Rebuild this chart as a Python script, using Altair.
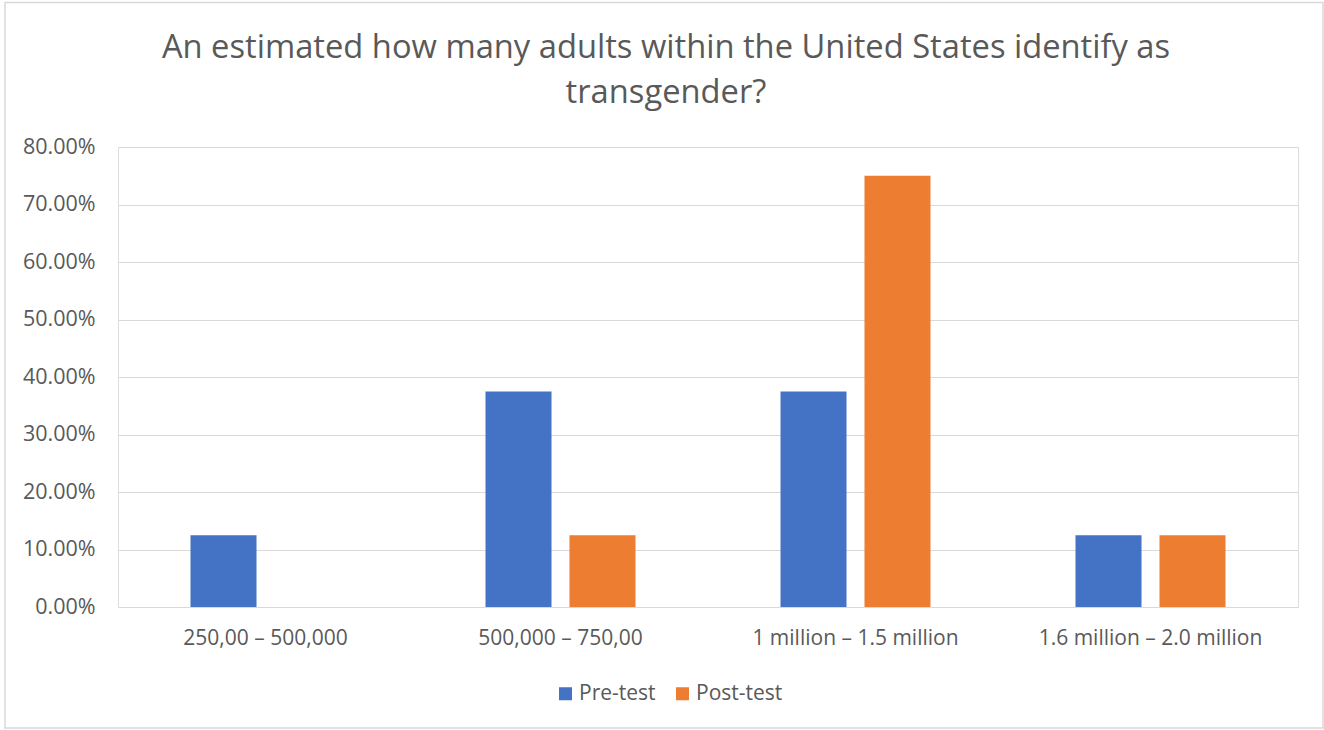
import altair as alt
import pandas as pd

categories = ["250,00 – 500,000", "500,000 – 750,00", "1 million – 1.5 million", "1.6 million – 2.0 million"]
series = ["Pre-test", "Post-test"]
pre_test = [0.125, 0.375, 0.375, 0.125]
post_test = [0.0, 0.125, 0.75, 0.125]
y_ticks = [0.0, 0.1, 0.2, 0.3, 0.4, 0.5, 0.6, 0.7, 0.8]
colors = ["#4472C4", "#ED7D31"]
title_lines = ["An estimated how many adults within the United States identify as", "transgender?"]

rows = []
for c, p, q in zip(categories, pre_test, post_test):
    rows.append({"category": c, "series": series[0], "value": p})
    rows.append({"category": c, "series": series[1], "value": q})
df = pd.DataFrame(rows)

FONT = "Open Sans"
GRAY = "#595959"
GRID = "#d9d9d9"
LEFT, TOP = 118, 147

bars = alt.Chart(df).mark_bar().encode(
    x=alt.X("category:N", sort=categories,
            scale=alt.Scale(paddingInner=0.4915, paddingOuter=0.24575),
            axis=alt.Axis(title=None, labelAngle=0, labelFontSize=21, labelFont=FONT,
                          labelColor=GRAY, labelPadding=20, ticks=False, labelLimit=0,
                          domainColor=GRID, domainWidth=1, grid=False)),
    xOffset=alt.XOffset("series:N", sort=series,
                        scale=alt.Scale(paddingInner=0.214, paddingOuter=0)),
    y=alt.Y("value:Q", scale=alt.Scale(domain=[0, 0.8]),
            axis=alt.Axis(title=None, values=y_ticks, format=".2%", labelFontSize=21.5,
                          labelFont=FONT, labelColor=GRAY, labelPadding=23, ticks=False,
                          domain=False, gridColor=GRID, gridWidth=1)),
    color=alt.Color("series:N", sort=series,
                    scale=alt.Scale(domain=series, range=colors),
                    legend=alt.Legend(title=None, orient="none", legendX=437, legendY=536,
                                      direction="horizontal", symbolType="square",
                                      symbolSize=169, symbolStrokeWidth=0, symbolOpacity=1,
                                      labelFontSize=21, labelFont=FONT, labelColor=GRAY,
                                      columnPadding=16, labelOffset=3)),
)

border = alt.Chart(pd.DataFrame({"a": [0]})).mark_rect(
    fill=None, stroke=GRID, strokeWidth=1.5
).encode(
    x=alt.value(5 - LEFT), x2=alt.value(1323 - LEFT),
    y=alt.value(2.5 - TOP), y2=alt.value(728 - TOP),
)

title = alt.Chart(pd.DataFrame({"a": [0]})).mark_text(
    font=FONT, fontSize=32.7, color=GRAY, align="center", baseline="alphabetic",
    lineHeight=45
).encode(
    x=alt.value(666 - LEFT), y=alt.value(58 - TOP), text=alt.value(title_lines)
)

chart = alt.layer(border, title, bars).properties(
    width=1180, height=460,
    autosize=alt.AutoSizeParams(type="none"),
    padding={"left": LEFT, "top": TOP, "right": 26, "bottom": 123},
).configure_view(stroke=None).configure(background="white")

chart.save("out.html", embed_options={"renderer": "svg", "actions": False})
